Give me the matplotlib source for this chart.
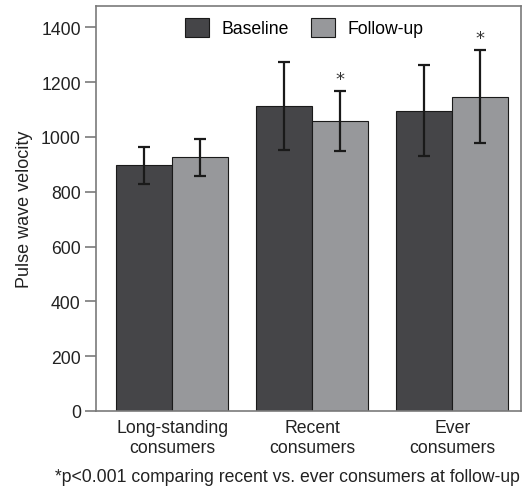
import matplotlib
matplotlib.use("Agg")
import matplotlib.pyplot as plt
import numpy as np

plt.rcParams['font.family'] = ['Liberation Sans', 'DejaVu Sans']

categories = ["Long-standing\nconsumers", "Recent\nconsumers", "Ever\nconsumers"]
baseline = [896, 1112, 1096]
baseline_err = [68, 160, 166]
followup = [926, 1057, 1147]
followup_err = [67, 110, 170]
yticks = [0, 200, 400, 600, 800, 1000, 1200, 1400]
star_groups = [1, 2]

dark = "#454548"
light = "#97989b"
frame = "#7a7a7a"
txt = "#222222"
fs = 12.7

fig = plt.figure(figsize=(5.22, 4.89), dpi=100)
ax = fig.add_axes([0.184, 0.1575, 0.814, 0.828])

x = np.arange(len(categories))
w = 0.4
ekw = dict(elinewidth=1.6, capthick=1.6, ecolor="#1a1a1a")
ax.bar(x - w/2, baseline, w, yerr=baseline_err, capsize=4.3, color=dark,
       edgecolor="#1a1a1a", linewidth=0.8, error_kw=ekw, label="Baseline")
ax.bar(x + w/2, followup, w, yerr=followup_err, capsize=4.3, color=light,
       edgecolor="#1a1a1a", linewidth=0.8, error_kw=ekw, label="Follow-up")

for g in star_groups:
    ax.text(x[g] + w/2, followup[g] + followup_err[g] + 45, "*", ha="center",
            va="center", fontsize=13, color="#333333", family="DejaVu Sans")

ax.set_xlim(-0.545, 2.49)
ax.set_ylim(0, 1477)
ax.set_yticks(yticks)
ax.set_yticklabels([str(t) for t in yticks], fontsize=fs, color=txt)
ax.set_xticks(x)
ax.set_xticklabels(categories, fontsize=fs, color=txt, linespacing=1.2)
ax.tick_params(axis="x", length=0, pad=6)
ax.tick_params(axis="y", length=8, width=1.2, color=frame, pad=3)
for s in ax.spines.values():
    s.set_color(frame)
    s.set_linewidth(1.2)

ax.set_ylabel("Pulse wave velocity", fontsize=13, color=txt, labelpad=6)

ax.legend(loc="upper center", bbox_to_anchor=(0.49, 1.0), ncol=2, frameon=False,
          fontsize=fs, handlelength=1.35, handleheight=1.35, columnspacing=1.3,
          handletextpad=0.7, borderaxespad=0.25)

fig.text(287.5 / 522, 7 / 489, "*p<0.001 comparing recent vs. ever consumers at follow-up",
         ha="center", va="baseline", fontsize=fs, color=txt)

fig.savefig("out.png", dpi=100)
